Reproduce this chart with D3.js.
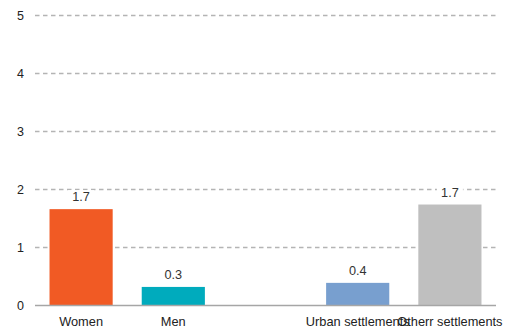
<!DOCTYPE html>
<html>
<head>
<meta charset="utf-8">
<script src="https://cdn.jsdelivr.net/npm/d3@7"></script>
<style>
  html, body { margin: 0; padding: 0; background: #fff; }
  svg { display: block; font-family: "Liberation Sans", Arial, sans-serif; }
</style>
</head>
<body>
<svg id="chart" width="510" height="333"></svg>
<script>
// Categories (the empty slot separates the two groups)
const categories = ["Women", "Men", "", "Urban settlements", "Otherr settlements"];
const values = [1.66, 0.32, null, 0.39, 1.74];
const barColors = ["#f15a24", "#00abbd", null, "#789fcf", "#bfbfbf"];
const yTicks = [0, 1, 2, 3, 4, 5];

const svg = d3.select("#chart");
const margin = { left: 35, right: 14, top: 15, bottom: 28 };
const W = 510, H = 333;

const x = d3.scaleBand()
  .domain(categories.map((c, i) => i))
  .range([margin.left, W - margin.right])
  .paddingInner(0.315)
  .paddingOuter(0.1575);

const y = d3.scaleLinear()
  .domain([0, 5])
  .range([305.5, 15.3]);

const fmt = d3.format(".1f");

// Dashed gridlines
svg.append("g")
  .selectAll("line")
  .data(yTicks.filter(t => t > 0))
  .join("line")
  .attr("x1", margin.left)
  .attr("x2", W - margin.right)
  .attr("y1", d => Math.round(y(d)) + 0.5)
  .attr("y2", d => Math.round(y(d)) + 0.5)
  .attr("stroke", "#b4b4b4")
  .attr("stroke-width", 1.3)
  .attr("stroke-dasharray", "4.5,3.5");

// Y tick labels
svg.append("g")
  .selectAll("text")
  .data(yTicks)
  .join("text")
  .attr("x", 24)
  .attr("y", d => y(d) + 4.5)
  .attr("text-anchor", "end")
  .attr("font-size", 12.5)
  .attr("fill", "#222")
  .text(d => d);

// Bars
const data = categories.map((c, i) => ({ i, c, v: values[i], color: barColors[i] }))
  .filter(d => d.v != null);

svg.append("g")
  .selectAll("rect")
  .data(data)
  .join("rect")
  .attr("x", d => x(d.i))
  .attr("width", x.bandwidth())
  .attr("y", d => y(d.v))
  .attr("height", d => y(0) - y(d.v))
  .attr("fill", d => d.color);

// Baseline
svg.append("line")
  .attr("x1", margin.left)
  .attr("x2", W - margin.right)
  .attr("y1", y(0))
  .attr("y2", y(0))
  .attr("stroke", "#a6a6a6")
  .attr("stroke-width", 1.5);

// Value labels with white backing
const lbl = svg.append("g")
  .selectAll("g")
  .data(data)
  .join("g")
  .attr("transform", d => `translate(${x(d.i) + x.bandwidth() / 2},${y(d.v) - 8})`);

lbl.append("rect")
  .attr("x", -13)
  .attr("y", -11)
  .attr("width", 26)
  .attr("height", 14)
  .attr("fill", "#fff");

lbl.append("text")
  .attr("text-anchor", "middle")
  .attr("font-size", 12.7)
  .attr("fill", "#333")
  .text(d => fmt(d.v));

// Category labels
svg.append("g")
  .selectAll("text")
  .data(categories.map((c, i) => ({ c, i })).filter(d => d.c))
  .join("text")
  .attr("x", d => x(d.i) + x.bandwidth() / 2)
  .attr("y", 326)
  .attr("text-anchor", "middle")
  .attr("font-size", 12.8)
  .attr("fill", "#222")
  .text(d => d.c);
</script>
</body>
</html>
